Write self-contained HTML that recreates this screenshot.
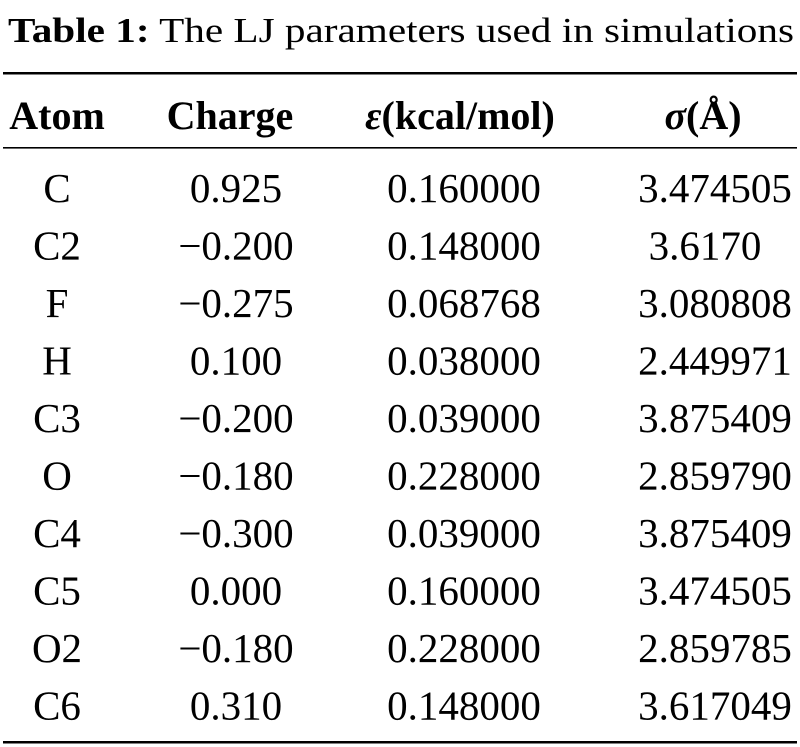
<!DOCTYPE html>
<html><head><meta charset="utf-8"><style>
html,body{margin:0;padding:0;background:#fff;}
svg{display:block;font-family:"Liberation Serif","DejaVu Serif",serif;}
</style></head><body>
<svg width="800" height="747" viewBox="0 0 800 747">
<text x="8" y="42" font-size="35" textLength="786" lengthAdjust="spacingAndGlyphs"><tspan font-weight="bold">Table 1:</tspan>  The LJ parameters used in simulations</text>
<rect x="3" y="72" width="794" height="2.5" fill="#000"/>
<rect x="3" y="147" width="794" height="1.6" fill="#000"/>
<rect x="3" y="741" width="794" height="2.5" fill="#000"/>
<g font-weight="bold" font-size="40" text-anchor="middle">
<text x="57" y="129">Atom</text>
<text x="230" y="129">Charge</text>
<text x="460" y="129"><tspan font-style="italic">ε</tspan>(kcal/mol)</text>
<text x="703" y="129"><tspan font-style="italic">σ</tspan>(Å)</text>
</g>
<g id="body" font-size="41" text-anchor="middle"></g>
</svg>
<script>
const atoms=["C","C2","F","H","C3","O","C4","C5","O2","C6"];
const charges=["0.925","−0.200","−0.275","0.100","−0.200","−0.180","−0.300","0.000","−0.180","0.310"];
const eps=["0.160000","0.148000","0.068768","0.038000","0.039000","0.228000","0.039000","0.160000","0.228000","0.148000"];
const sig=["3.474505","3.6170","3.080808","2.449971","3.875409","2.859790","3.875409","3.474505","2.859785","3.617049"];
const g=document.getElementById('body');
const ns="http://www.w3.org/2000/svg";
const cols=[[atoms,57,'atom'],[charges,236,'charge'],[eps,464,'epsilon'],[sig,715,'sigma']];
atoms.forEach((a,i)=>{
  const y=202+i*57.5;
  cols.forEach(([arr,x,n])=>{
    const t=document.createElementNS(ns,'text');
    let xx=x; if(n==='sigma'&&arr[i].length<8) xx=705;
    t.setAttribute('x',xx);t.setAttribute('y',y);
    
    
    t.textContent=arr[i];g.appendChild(t);
  });
});
</script>
</body></html>
